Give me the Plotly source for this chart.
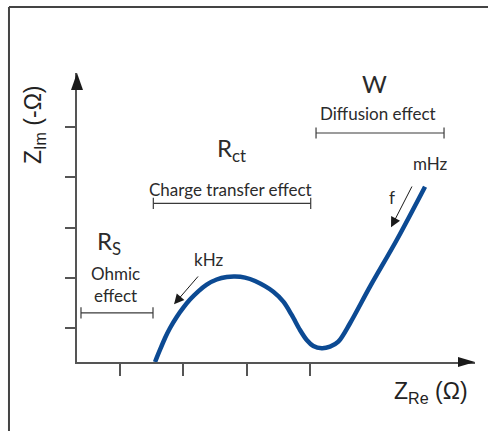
import plotly.graph_objects as go

# ---- data (Z_Re, Z_Im in arbitrary units) ----
z_re = [1.553, 1.632, 1.711, 1.790, 1.895, 2.000, 2.105, 2.236, 2.369, 2.527,
        2.685, 2.816, 2.974, 3.132, 3.421, 3.579, 3.711, 3.842, 3.948, 4.052,
        4.185, 4.316, 4.447, 4.632, 4.947, 5.369, 5.816]
z_im = [0.323, 0.568, 0.801, 1.000, 1.219, 1.404, 1.565, 1.730, 1.864, 1.965,
        2.015, 2.025, 2.003, 1.935, 1.722, 1.523, 1.259, 0.960, 0.761, 0.642,
        0.596, 0.628, 0.727, 1.094, 1.822, 2.751, 3.812]

x_ticks = [1, 2, 3, 4]
y_ticks = [1, 2, 3, 4, 5]

# region brackets: (x_start, x_end, y)
ohmic_range = [0.384, 1.521, 1.299]
ct_range = [1.526, 4.011, 3.482]
diff_range = [4.095, 6.116, 4.881]

X_RANGE = [0.321, 6.605]
Y_RANGE = [0.323, 6.075]

CURVE = "#0c4a93"
GREY = "#3a3a3a"
AX = "#555555"
LAB = "Lato"

fig = go.Figure()

fig.add_trace(go.Scatter(x=z_re, y=z_im, mode="lines",
                         line=dict(color=CURVE, width=4.5, shape="spline", smoothing=0.9),
                         hoverinfo="skip", showlegend=False))

for r in (ohmic_range, ct_range, diff_range):
    fig.add_trace(go.Scatter(x=[r[0], r[1]], y=[r[2], r[2]], mode="lines+markers",
                             line=dict(color=GREY, width=1.2),
                             marker=dict(symbol="line-ns", size=8,
                                         line=dict(color=GREY, width=1.2)),
                             hoverinfo="skip", showlegend=False))

ann = []
def txt(x, y, t, size, family=LAB, color="#2b2b2b", ref="x", **kw):
    ann.append(dict(x=x, y=y, xref="x" if ref == "x" else "paper",
                    yref="y" if ref == "x" else "paper", text=t, showarrow=False,
                    font=dict(family=family, size=size, color=color),
                    xanchor="center", yanchor="middle", **kw))

txt(0.826, 2.70, "R<sub>S</sub>", 24)
txt(0.921, 1.86, "Ohmic<br>effect", 17)
txt(2.753, 4.56, "R<sub>ct</sub>", 24)
txt(2.737, 3.766, "Charge transfer effect", 17)
txt(5.026, 5.866, "W", 24)
txt(5.074, 5.273, "Diffusion effect", 17)
txt(5.903, 4.274, "mHz", 17)
txt(5.295, 3.607, "f", 17)
txt(2.397, 2.363, "kHz", 17)
txt(0.889, -0.107, "Z<sub>Re</sub> (Ω)", 23, family="Liberation Sans", color="#222222",
    ref="paper")
txt(-0.108, 0.820, "Z<sub>Im</sub> (-Ω)", 23, family="Liberation Sans", color="#222222",
    ref="paper", textangle=-90)

# frequency arrows
for (x, y, ax, ay) in [(1.853, 1.472, 25.3, -29.3), (5.279, 3.004, 21.7, -42.3)]:
    ann.append(dict(x=x, y=y, xref="x", yref="y", ax=ax, ay=ay, text="",
                    showarrow=True, arrowhead=2, arrowsize=2, arrowwidth=1,
                    arrowcolor="#1a1a1a", standoff=0))

shapes = [
    # axis arrowheads (pixel sized, anchored at the ends of the axes)
    dict(type="path", xref="paper", yref="paper", xsizemode="pixel", ysizemode="pixel",
         xanchor=1, yanchor=0, path="M 0 0 L -17 5 L -17 -5 Z",
         fillcolor="#1a1a1a", line=dict(width=0)),
    dict(type="path", xref="paper", yref="paper", xsizemode="pixel", ysizemode="pixel",
         xanchor=0, yanchor=1, path="M 0 0 L -6 -17 L 6 -17 Z",
         fillcolor="#1a1a1a", line=dict(width=0)),
    # frame (top and left edge of the figure box)
    dict(type="line", xref="paper", yref="paper", x0=-0.1709, x1=1.04, y0=1.2284, y1=1.2284,
         line=dict(color="#444444", width=2)),
    dict(type="line", xref="paper", yref="paper", x0=-0.1709, x1=-0.1709, y0=1.2284, y1=-0.25,
         line=dict(color="#444444", width=2)),
]

fig.update_layout(
    width=488, height=431,
    margin=dict(l=77, r=13, t=73, b=69, autoexpand=False),
    paper_bgcolor="white", plot_bgcolor="white",
    showlegend=False,
    annotations=ann, shapes=shapes,
    xaxis=dict(range=X_RANGE, showgrid=False, zeroline=False, showline=True,
               linecolor=AX, linewidth=1.8, ticks="outside", tickvals=x_ticks,
               ticklen=12, tickwidth=1.5, tickcolor=AX, showticklabels=False,
               fixedrange=True),
    yaxis=dict(range=Y_RANGE, showgrid=False, zeroline=False, showline=True,
               linecolor=AX, linewidth=1.8, ticks="outside", tickvals=y_ticks,
               ticklen=10, tickwidth=1.5, tickcolor=AX, showticklabels=False,
               fixedrange=True),
)

fig.write_html("out.html", config={"displayModeBar": False},
               post_script="document.body.style.margin='0';document.body.style.overflow='hidden';")
